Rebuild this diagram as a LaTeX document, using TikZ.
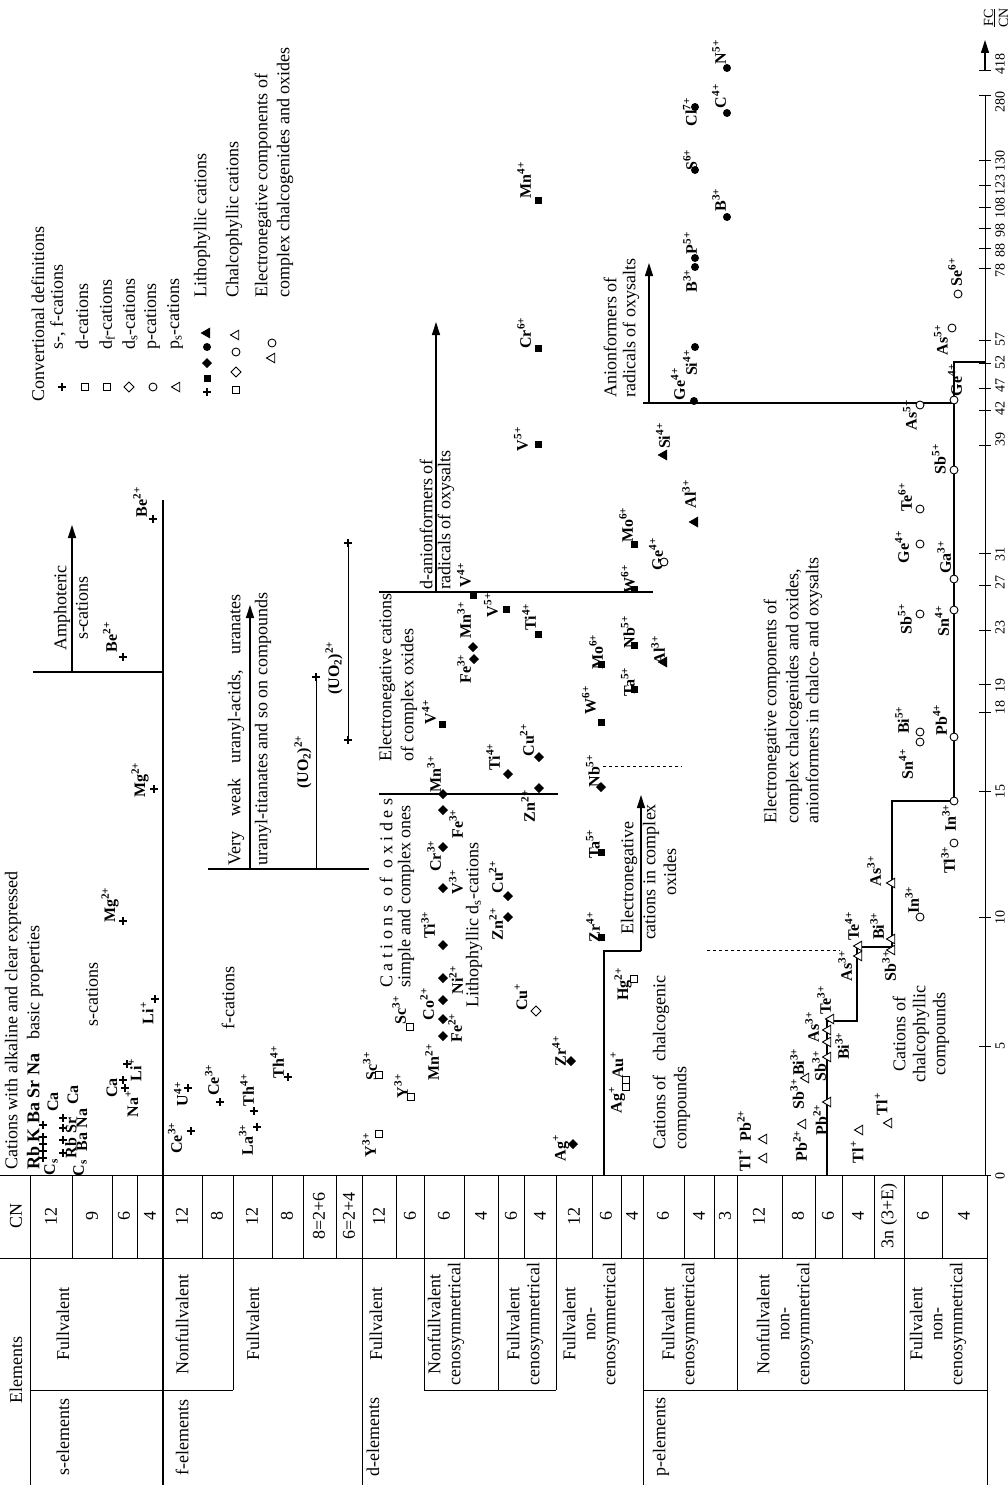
\documentclass[tikz,border=0pt]{standalone}
\usepackage{fontspec}
\setmainfont{Liberation Serif}
\usetikzlibrary{arrows.meta,shapes.geometric,shapes.misc}

\tikzset{
  txt/.style={rotate=90, inner sep=0pt, font=\fontsize{18}{20}\selectfont},
  ion/.style={rotate=90, inner sep=0pt, font=\fontsize{16}{16}\selectfont\bfseries},
  axl/.style={rotate=90, inner sep=0pt, font=\fontsize{14}{15}\selectfont},
  mk/.style={inner sep=0pt, outer sep=0pt, line width=0.9pt},
  crs/.style={mk, cross out, draw, line width=1.6pt, minimum size=5.5pt, rotate=45},
  sqo/.style={mk, rectangle, draw, fill=white, minimum size=7pt},
  sqd/.style={sqo, path picture={\fill (path picture bounding box.center) circle (1.2pt);}},
  sqf/.style={mk, rectangle, fill, minimum size=7pt},
  dmo/.style={mk, diamond, draw, fill=white, minimum size=10pt},
  dmf/.style={mk, diamond, fill, minimum size=10pt},
  cio/.style={mk, circle, draw, fill=white, minimum size=8pt},
  cid/.style={cio, path picture={\fill (path picture bounding box.center) circle (1.2pt);}},
  cif/.style={mk, circle, fill, minimum size=8pt},
  tro/.style={mk, regular polygon, regular polygon sides=3, draw, fill=white, minimum size=11pt, shape border rotate=90},
  trf/.style={tro, fill=black},
  tline/.style={line width=0.8pt},
  bnd/.style={line width=1.6pt},
  stair/.style={line width=2.2pt},
  arr/.style={line width=1.2pt, -{Triangle[length=13pt, width=8pt]}},
}

\begin{document}
\begin{tikzpicture}[x=1pt, y=-1pt]
\useasboundingbox (0,0) rectangle (1008,1485);

% ---- table
\draw[tline] (30,1175) -- (30,1485);
\draw[tline] (0,1175) -- (985,1175);
\draw[tline] (0,1258) -- (987,1258);
\draw[tline] (30,1390) -- (233,1390) (424,1390) -- (556,1390) (643,1390) -- (987,1390);
\draw[tline] (362,1175) -- (362,1485) (643,1175) -- (643,1485) (987,1175) -- (987,1485);
\draw[tline] (233,1175) -- (233,1390) (424,1175) -- (424,1390) (498,1175) -- (498,1390)
  (556,1175) -- (556,1390) (737,1175) -- (737,1390) (904,1175) -- (904,1390);
\draw[tline] (72,1175) -- (72,1258) (112,1175) -- (112,1258) (137,1175) -- (137,1258)
  (202,1175) -- (202,1258) (272,1175) -- (272,1258) (303,1175) -- (303,1258) (336,1175) -- (336,1258)
  (396,1175) -- (396,1258) (464,1175) -- (464,1258) (524,1175) -- (524,1258) (592,1175) -- (592,1258)
  (621,1175) -- (621,1258) (684,1175) -- (684,1258) (714,1175) -- (714,1258) (782,1175) -- (782,1258)
  (815,1175) -- (815,1258) (842,1175) -- (842,1258) (874,1175) -- (874,1258) (942,1175) -- (942,1258);

\node[txt] (hEl) at (16,1370) {Elements};
\node[txt] (hCN) at (16,1216) {CN};
\node[txt] (gS) at (63,1437) {s-elements};
\node[txt] (gF) at (182,1437) {f-elements};
\node[txt] (gD) at (373,1437) {d-elements};
\node[txt] (gP) at (661,1437) {p-elements};
\node[txt] (sS) at (63,1324) {Fullvalent};
\node[txt] (sF1) at (182,1324) {Nonfullvalent};
\node[txt] (sF2) at (253,1324) {Fullvalent};
\node[txt] (sD1) at (376,1324) {Fullvalent};
\node[txt, align=center] (sD2) at (446,1324) {Nonfullvalent\\cenosymmetrical};
\node[txt, align=center] (sD3) at (525,1324) {Fullvalent\\cenosymmetrical};
\node[txt, align=center] (sD4) at (591,1324) {Fullvalent\\non-\\cenosymmetrical};
\node[txt, align=center] (sP1) at (680,1324) {Fullvalent\\cenosymmetrical};
\node[txt, align=center] (sP2) at (785,1324) {Nonfullvalent\\non-\\cenosymmetrical};
\node[txt, align=center] (sP3) at (938,1324) {Fullvalent\\non-\\cenosymmetrical};

\node[txt] (c01) at (51,1216) {12};
\node[txt] (c02) at (92,1216) {9};
\node[txt] (c03) at (124,1216) {6};
\node[txt] (c04) at (150,1216) {4};
\node[txt] (c05) at (182,1216) {12};
\node[txt] (c06) at (217,1216) {8};
\node[txt] (c07) at (252,1216) {12};
\node[txt] (c08) at (287,1216) {8};
\node[txt] (c09) at (319,1216) {8=2+6};
\node[txt] (c10) at (349,1216) {6=2+4};
\node[txt] (c11) at (379,1216) {12};
\node[txt] (c12) at (410,1216) {6};
\node[txt] (c13) at (444,1216) {6};
\node[txt] (c14) at (481,1216) {4};
\node[txt] (c15) at (511,1216) {6};
\node[txt] (c16) at (540,1216) {4};
\node[txt] (c17) at (574,1216) {12};
\node[txt] (c18) at (606,1216) {6};
\node[txt] (c19) at (632,1216) {4};
\node[txt] (c20) at (663,1216) {6};
\node[txt] (c21) at (699,1216) {4};
\node[txt] (c22) at (725,1216) {3};
\node[txt] (c23) at (759,1216) {12};
\node[txt] (c24) at (798,1216) {8};
\node[txt] (c25) at (828,1216) {6};
\node[txt] (c26) at (858,1216) {4};
\node[txt] (c27) at (889,1216) {3n (3+E)};
\node[txt] (c28) at (923,1216) {6};
\node[txt] (c29) at (964,1216) {4};

% ---- legend
\node[txt, anchor=west] (lgT) at (38,402) {Convertional definitions};
\node[crs] (lg1m) at (62,387) {};
\node[txt, anchor=west] (lg1) at (58,350) {s-, f-cations};
\node[sqo] (lg2m) at (85,387) {};
\node[txt, anchor=west] (lg2) at (82,350) {d-cations};
\node[sqd] (lg3m) at (107,387) {};
\node[txt, anchor=west] (lg3) at (107,350) {d\textsubscript{f}-cations};
\node[dmo] (lg4m) at (129,387) {};
\node[txt, anchor=west] (lg4) at (130,350) {d\textsubscript{s}-cations};
\node[cio] (lg5m) at (153,387) {};
\node[txt, anchor=west] (lg5) at (152,350) {p-cations};
\node[tro] (lg6m) at (177,387) {};
\node[txt, anchor=west] (lg6) at (175,350) {p\textsubscript{s}-cations};
\node[crs] (lgL1) at (207,392) {};
\node[sqf] (lgL2) at (207,378) {};
\node[dmf] (lgL3) at (207,363) {};
\node[cif] (lgL4) at (207,347) {};
\node[trf] (lgL5) at (207,333) {};
\node[txt, anchor=west] (lgL) at (202,298) {Lithophyllic cations};
\node[sqo] (lgC1) at (236,390) {};
\node[dmo] (lgC2) at (236,372) {};
\node[cio] (lgC3) at (236,352) {};
\node[tro] (lgC4) at (236,335) {};
\node[txt, anchor=west] (lgC) at (234,298) {Chalcophyllic cations};
\node[tro] (lgE1) at (272,358) {};
\node[cid] (lgE2) at (272,343) {};
\node[txt, anchor=west] (lgE) at (263,298) {Electronegative components of};
\node[txt, anchor=west] (lgF) at (285,298) {complex chalcogenides and oxides};

% ---- s-elements
\draw[bnd] (163,500) -- (163,1485);
\draw[bnd] (33,672) -- (163,672);
\draw[arr] (72,672) -- (72,525);
\node[txt] (amph) at (62,608) {Amphoteric};
\node[txt] (amph2) at (82,608) {s-cations};
\node[txt, anchor=west] (alk1) at (13,1170) {Cations with alkaline and clear expressed};
\node[txt, anchor=west] (alk2) at (35,1170) {\textbf{Rb K Ba Sr Na}\hspace{0.8em}basic properties};
\node[ion] (Cs1) at (51,1167) {C\textsubscript{s}};
\node[crs] (mCs1) at (43,1158) {};
\node[crs] (mRb1) at (43,1151) {};
\node[crs] (mK1) at (43,1144) {};
\node[crs] (mBa1) at (43,1137) {};
\node[ion] (Ca1) at (53,1102) {Ca};
\node[crs] (mSr1) at (43,1125) {};
\node[ion] (Rb2) at (71,1138) {Rb Sr};
\node[crs] (mRb2) at (63,1153) {};
\node[crs] (mSr2) at (63,1140) {};
\node[crs] (mCa2) at (63,1128) {};
\node[crs] (mNa2) at (63,1118) {};
\node[ion] (Ca2) at (73,1095) {Ca};
\node[ion] (Cs2) at (80,1168) {C\textsubscript{s}};
\node[ion] (Ba2) at (82,1130) {Ba Na};
\node[ion] (Ca3) at (112,1088) {Ca};
\node[ion] (Na3) at (132,1104) {Na\textsuperscript{+}};
\node[crs] (mNa3) at (125,1088) {};
\node[crs] (mCa3) at (123,1080) {};
\node[ion] (Li1b) at (135,1070) {Li\textsuperscript{+}};
\node[crs] (mLi1b) at (127,1064) {};
\node[txt] (scat) at (92,994) {s-cations};
\node[ion] (Li1a) at (147,1013) {Li\textsuperscript{+}};
\node[crs] (mLi1a) at (155,999) {};
\node[ion] (Mg2a) at (110,905) {Mg\textsuperscript{2+}};
\node[crs] (mMg2a) at (123,921) {};
\node[ion] (Mg2b) at (140,780) {Mg\textsuperscript{2+}};
\node[crs] (mMg2b) at (154,789) {};
\node[ion] (Be2a) at (110,637) {Be\textsuperscript{2+}};
\node[crs] (mBe2a) at (123,657) {};
\node[ion] (Be2b) at (140,502) {Be\textsuperscript{2+}};
\node[crs] (mBe2b) at (153,519) {};

% ---- f-elements
\node[txt] (fcat) at (228,998) {f-cations};
\node[ion] (Ce3a) at (175,1138) {Ce\textsuperscript{3+}};
\node[crs] (mCe3a) at (191,1131) {};
\node[ion] (U4) at (181,1094) {U\textsuperscript{4+}};
\node[crs] (mU4) at (188,1088) {};
\node[ion] (Ce3b) at (212,1080) {Ce\textsuperscript{3+}};
\node[crs] (mCe3b) at (220,1102) {};
\node[ion] (La3) at (246,1140) {La\textsuperscript{3+}};
\node[crs] (mLa3) at (257,1127) {};
\node[ion] (Th4a) at (247,1090) {Th\textsuperscript{4+}};
\node[crs] (mTh4a) at (254,1111) {};
\node[ion] (Th4b) at (277,1062) {Th\textsuperscript{4+}};
\node[crs] (mTh4b) at (288,1077) {};
\draw[bnd] (208,869) -- (369,869);
\draw[arr] (250,869) -- (250,605);
\node[txt, anchor=west] (uran1) at (236,866) {Very\hspace{0.6em} weak\hspace{0.6em} uranyl-acids,\hspace{0.6em} uranates};
\node[txt, anchor=west] (uran2) at (263,866) {uranyl-titanates and so on compounds};
\draw[tline] (316,869) -- (316,677);
\node[crs] (mUO2a) at (316,677) {};
\node[ion] (UO2a) at (303,762) {(UO\textsubscript{2})\textsuperscript{2+}};
\draw[tline] (348,740) -- (348,543);
\node[crs] (mUO2b) at (348,740) {};
\node[crs] (mUO2c) at (348,543) {};
\node[ion] (UO2b) at (334,668) {(UO\textsubscript{2})\textsuperscript{2+}};

% ---- d-elements
\draw[bnd] (379,592) -- (653,592);
\draw[arr] (436,592) -- (436,322);
\draw[bnd] (379,794) -- (558,794);
\draw[bnd] (604,1175) -- (604,951) -- (641,951);
\draw[arr] (641,951) -- (641,795);
\draw[tline, dashed] (603,766) -- (682,766);
\draw[tline, dashed] (707,950) -- (840,950);
\node[txt, anchor=west] (dox1) at (386,988) {C a t i o n s\ \ o f\ \ o x i d e s};
\node[txt, anchor=west] (dox2) at (406,988) {simple and complex ones};
\node[txt, anchor=west] (den1) at (387,762) {Electronegative cations};
\node[txt, anchor=west] (den2) at (409,762) {of complex oxides};
\node[txt, anchor=west] (dan1) at (426,590) {d-anionformers of};
\node[txt, anchor=west] (dan2) at (446,590) {radicals of oxysalts};
\node[txt, anchor=west] (dlit) at (474,1008) {Lithophyllic d\textsubscript{s}-cations};
\node[txt] (dcx1) at (629,878) {Electronegative};
\node[txt] (dcx2) at (651,872) {cations in complex};
\node[txt] (dcx3) at (670,872) {oxides};
\node[txt, anchor=west] (dch1) at (661,1150) {Cations of\hspace{0.5em} chalcogenic};
\node[txt, anchor=west] (dch2) at (682,1150) {compounds};

\node[ion] (Y3a) at (369,1145) {Y\textsuperscript{3+}};
\node[sqd] (mY3a) at (379,1134) {};
\node[ion] (Sc3a) at (370,1066) {Sc\textsuperscript{3+}};
\node[sqd] (mSc3a) at (379,1075) {};
\node[ion] (Y3b) at (401,1086) {Y\textsuperscript{3+}};
\node[sqd] (mY3b) at (411,1097) {};
\node[ion] (Sc3b) at (399,1010) {Sc\textsuperscript{3+}};
\node[sqd] (mSc3b) at (410,1027) {};

\node[ion] (Mn2) at (432,1062) {Mn\textsuperscript{2+}};
\node[dmf] (mMn2) at (443,1036) {};
\node[ion] (Fe2) at (455,1028) {Fe\textsuperscript{2+}};
\node[dmf] (mFe2) at (443,1019) {};
\node[ion] (Co2) at (427,1004) {Co\textsuperscript{2+}};
\node[dmf] (mCo2) at (443,1000) {};
\node[ion] (Ni2) at (456,980) {Ni\textsuperscript{2+}};
\node[dmf] (mNi2) at (443,978) {};
\node[ion] (Ti3) at (428,925) {Ti\textsuperscript{3+}};
\node[dmf] (mTi3) at (443,945) {};
\node[ion] (V3) at (456,882) {V\textsuperscript{3+}};
\node[dmf] (mV3) at (443,888) {};
\node[ion] (Cr3) at (434,856) {Cr\textsuperscript{3+}};
\node[dmf] (mCr3) at (443,847) {};
\node[ion] (Fe3a) at (456,824) {Fe\textsuperscript{3+}};
\node[dmf] (mFe3a) at (443,810) {};
\node[ion] (Mn3a) at (434,774) {Mn\textsuperscript{3+}};
\node[dmf] (mMn3a) at (443,794) {};

\node[ion] (Zn2a) at (496,924) {Zn\textsuperscript{2+}};
\node[dmf] (mZn2a) at (508,917) {};
\node[ion] (Cu2a) at (496,877) {Cu\textsuperscript{2+}};
\node[dmf] (mCu2a) at (508,896) {};
\node[ion] (Ti4a) at (493,757) {Ti\textsuperscript{4+}};
\node[dmf] (mTi4a) at (508,774) {};
\node[ion] (Cu2b) at (527,740) {Cu\textsuperscript{2+}};
\node[dmf] (mCu2b) at (539,757) {};
\node[ion] (Zn2b) at (528,806) {Zn\textsuperscript{2+}};
\node[dmf] (mZn2b) at (539,788) {};
\node[ion] (Cu1) at (521,997) {Cu\textsuperscript{+}};
\node[dmo] (mCu1) at (536,1011) {};
\node[ion] (Zr4a) at (559,1051) {Zr\textsuperscript{4+}};
\node[dmf] (mZr4a) at (571,1061) {};
\node[ion] (Ag1a) at (561,1148) {Ag\textsuperscript{+}};
\node[dmf] (mAg1a) at (573,1144) {};
\node[ion] (Zr4b) at (593,927) {Zr\textsuperscript{4+}};
\node[sqf] (mZr4b) at (601,937) {};
\node[ion] (Ta5a) at (593,844) {Ta\textsuperscript{5+}};
\node[sqf] (mTa5a) at (601,852) {};
\node[ion] (Nb5a) at (593,771) {Nb\textsuperscript{5+}};
\node[dmf] (mNb5a) at (601,787) {};
\node[ion] (Ag1b) at (617,1100) {Ag\textsuperscript{+}};
\node[sqo] (mAg1b) at (626,1087) {};
\node[sqo] (mAu1) at (626,1080) {};
\node[ion] (Au1) at (617,1065) {Au\textsuperscript{+}};
\node[ion] (Hg2) at (623,984) {Hg\textsuperscript{2+}};
\node[sqo] (mHg2) at (634,979) {};

\node[ion] (V4a) at (429,712) {V\textsuperscript{4+}};
\node[sqf] (mV4a) at (442,724) {};
\node[ion] (V4b) at (464,575) {V\textsuperscript{4+}};
\node[sqf] (mV4b) at (473,595) {};
\node[ion] (Mn3b) at (464,620) {Mn\textsuperscript{3+}};
\node[dmf] (mMn3b) at (473,647) {};
\node[ion] (Fe3b) at (464,669) {Fe\textsuperscript{3+}};
\node[dmf] (mFe3b) at (474,659) {};
\node[ion] (V5a) at (491,605) {V\textsuperscript{5+}};
\node[sqf] (mV5a) at (506,609) {};
\node[ion] (Ti4b) at (529,617) {Ti\textsuperscript{4+}};
\node[sqf] (mTi4b) at (538,634) {};
\node[ion] (V5b) at (521,439) {V\textsuperscript{5+}};
\node[sqf] (mV5b) at (538,444) {};
\node[ion] (Cr6) at (524,333) {Cr\textsuperscript{6+}};
\node[sqf] (mCr6) at (538,348) {};
\node[ion] (Mn4) at (524,180) {Mn\textsuperscript{4+}};
\node[sqf] (mMn4) at (538,200) {};
\node[ion] (W6a) at (589,700) {W\textsuperscript{6+}};
\node[sqf] (mW6a) at (601,722) {};
\node[ion] (Mo6a) at (596,652) {Mo\textsuperscript{6+}};
\node[sqf] (mMo6a) at (601,664) {};
\node[ion] (Ta5b) at (628,682) {Ta\textsuperscript{5+}};
\node[sqf] (mTa5b) at (634,689) {};
\node[ion] (Nb5b) at (628,632) {Nb\textsuperscript{5+}};
\node[sqf] (mNb5b) at (634,645) {};
\node[ion] (W6b) at (628,579) {W\textsuperscript{6+}};
\node[sqf] (mW6b) at (634,589) {};
\node[ion] (Mo6b) at (626,525) {Mo\textsuperscript{6+}};
\node[sqf] (mMo6b) at (634,544) {};
\node[ion] (Ge4a) at (656,554) {Ge\textsuperscript{4+}};
\node[cio] (mGe4a) at (664,562) {};
\node[ion] (Al3a) at (658,650) {Al\textsuperscript{3+}};
\node[trf] (mAl3a) at (664,662) {};
\node[ion] (Si4a) at (663,436) {Si\textsuperscript{4+}};
\node[trf] (mSi4a) at (664,455) {};
\node[ion] (Al3b) at (689,494) {Al\textsuperscript{3+}};
\node[trf] (mAl3b) at (695,522) {};

% ---- p-elements
\draw[bnd] (643,403) -- (954,403);
\draw[arr] (649,403) -- (649,263);
\node[txt, anchor=west] (pan1) at (610,398) {Anionformers of};
\node[txt, anchor=west] (pan2) at (631,398) {radicals of oxysalts};
\draw[stair] (827,1175) -- (827,1021) -- (857,1021) -- (857,947) -- (892,947) -- (892,801)
  -- (954,801) -- (954,362) -- (985,362);
\node[txt, anchor=west] (pen1) at (772,824) {Electronegative components of};
\node[txt, anchor=west] (pen2) at (794,824) {complex chalcogenides and oxides,};
\node[txt, anchor=west] (pen3) at (814,824) {anionformers in chalco- and oxysalts};
\node[txt, align=center] (pch) at (921,1034) {Cations of\\chalcophyllic\\compounds};

\node[ion] (Ge4b) at (678,384) {Ge\textsuperscript{4+}};
\node[cif] (mGe4b) at (694,401) {};
\node[ion] (Si4b) at (690,363) {Si\textsuperscript{4+}};
\node[cif] (mSi4b) at (695,347) {};
\node[ion] (B3a) at (690,281) {B\textsuperscript{3+}};
\node[cif] (mB3a) at (695,267) {};
\node[ion] (P5) at (690,243) {P\textsuperscript{5+}};
\node[cif] (mP5) at (695,258) {};
\node[ion] (S6) at (690,160) {S\textsuperscript{6+}};
\node[cif] (mS6) at (695,170) {};
\node[ion] (Cl7) at (690,112) {Cl\textsuperscript{7+}};
\node[cif] (mCl7) at (695,107) {};
\node[ion] (B3b) at (719,200) {B\textsuperscript{3+}};
\node[cif] (mB3b) at (727,217) {};
\node[ion] (C4) at (719,96) {C\textsuperscript{4+}};
\node[cif] (mC4) at (727,113) {};
\node[ion] (N5) at (719,52) {N\textsuperscript{5+}};
\node[cif] (mN5) at (727,68) {};

\node[ion] (As5a) at (941,340) {As\textsuperscript{5+}};
\node[cio] (mAs5a) at (952,328) {};
\node[ion] (Se6) at (955,272) {Se\textsuperscript{6+}};
\node[cio] (mSe6) at (958,294) {};
\node[ion] (Ge4c) at (955,380) {Ge\textsuperscript{4+}};
\node[cio] (mGe4c) at (954,400) {};
\node[ion] (As5b) at (910,415) {As\textsuperscript{5+}};
\node[cid] (mAs5b) at (920,405) {};
\node[ion] (Sb5a) at (939,459) {Sb\textsuperscript{5+}};
\node[cio] (mSb5a) at (954,470) {};
\node[ion] (Te6) at (905,497) {Te\textsuperscript{6+}};
\node[cid] (mTe6) at (920,509) {};
\node[ion] (Ge4d) at (902,547) {Ge\textsuperscript{4+}};
\node[cid] (mGe4d) at (920,544) {};
\node[ion] (Ga3) at (944,557) {Ga\textsuperscript{3+}};
\node[cio] (mGa3) at (954,579) {};
\node[ion] (Sb5b) at (905,619) {Sb\textsuperscript{5+}};
\node[cid] (mSb5b) at (920,614) {};
\node[ion] (Sn4a) at (942,621) {Sn\textsuperscript{4+}};
\node[cio] (mSn4a) at (954,610) {};
\node[ion] (Bi5) at (902,720) {Bi\textsuperscript{5+}};
\node[cio] (mBi5) at (920,732) {};
\node[ion] (Sn4b) at (906,764) {Sn\textsuperscript{4+}};
\node[cio] (mSn4b) at (920,742) {};
\node[ion] (Pb4) at (940,720) {Pb\textsuperscript{4+}};
\node[cio] (mPb4) at (954,737) {};
\node[ion] (In3a) at (949,818) {In\textsuperscript{3+}};
\node[cio] (mIn3a) at (954,801) {};
\node[ion] (Tl3) at (948,860) {Tl\textsuperscript{3+}};
\node[cio] (mTl3) at (954,843) {};
\node[ion] (In3b) at (912,900) {In\textsuperscript{3+}};
\node[cio] (mIn3b) at (920,917) {};

\node[ion] (As3c) at (874,871) {As\textsuperscript{3+}};
\node[tro] (mAs3c) at (892,883) {};
\node[ion] (Bi3b) at (877,926) {Bi\textsuperscript{3+}};
\node[tro] (mBi3b) at (892,939) {};
\node[ion] (Sb3b) at (889,966) {Sb\textsuperscript{3+}};
\node[tro] (mSb3b) at (892,950) {};
\node[ion] (Te4) at (852,926) {Te\textsuperscript{4+}};
\node[tro] (mTe4) at (859,946) {};
\node[ion] (As3b) at (845,966) {As\textsuperscript{3+}};
\node[tro] (mAs3b) at (859,956) {};
\node[ion] (Te3) at (824,1000) {Te\textsuperscript{3+}};
\node[tro] (mTe3) at (831,1019) {};
\node[ion] (As3a) at (812,1027) {As\textsuperscript{3+}};
\node[tro] (mAs3a) at (828,1030) {};
\node[ion] (Bi3a) at (842,1046) {Bi\textsuperscript{3+}};
\node[tro] (mBi3a) at (828,1042) {};
\node[ion] (Sb3a) at (819,1066) {Sb\textsuperscript{3+}};
\node[tro] (mSb3a) at (828,1057) {};
\node[ion] (Pb2a) at (820,1120) {Pb\textsuperscript{2+}};
\node[tro] (mPb2a) at (828,1102) {};
\node[ion] (Sb3c) at (797,1094) {Sb\textsuperscript{3+}};
\node[tro] (mSb3c) at (806,1078) {};
\node[ion] (Bi3c) at (797,1062) {Bi\textsuperscript{3+}};
\node[ion] (Pb2b) at (800,1146) {Pb\textsuperscript{2+}};
\node[tro] (mPb2b) at (803,1124) {};
\node[ion] (Tl1a) at (744,1160) {Tl\textsuperscript{+}};
\node[tro] (mTl1a) at (764,1158) {};
\node[ion] (Pb2c) at (744,1126) {Pb\textsuperscript{2+}};
\node[tro] (mPb2c) at (764,1139) {};
\node[ion] (Tl1b) at (857,1152) {Tl\textsuperscript{+}};
\node[tro] (mTl1b) at (860,1130) {};
\node[ion] (Tl1c) at (881,1104) {Tl\textsuperscript{+}};
\node[tro] (mTl1c) at (889,1123) {};

% ---- axis
\draw[tline] (985,1175) -- (985,95);
\draw[arr] (985,70) -- (985,40);
\draw[tline] (979,1175) -- (991,1175) (979,1046) -- (991,1046) (979,917) -- (991,917)
  (979,791) -- (991,791) (979,712) -- (991,712) (979,684) -- (991,684) (979,630) -- (991,630)
  (979,585) -- (991,585) (979,553) -- (991,553) (979,445) -- (991,445) (979,410) -- (991,410)
  (979,388) -- (991,388) (979,363) -- (991,363) (979,340) -- (991,340) (979,268) -- (991,268)
  (979,248) -- (991,248) (979,228) -- (991,228) (979,207) -- (991,207) (979,185) -- (991,185)
  (979,160) -- (991,160) (979,95) -- (991,95) (979,70) -- (991,70);
\node[axl] (a0) at (1000,1176) {0};
\node[axl] (a5) at (1000,1046) {5};
\node[axl] (a10) at (1000,917) {10};
\node[axl] (a15) at (1000,791) {15};
\node[axl] (a18) at (1000,707) {18};
\node[axl] (a19) at (1000,685) {19};
\node[axl] (a23) at (1000,627) {23};
\node[axl] (a27) at (1000,582) {27};
\node[axl] (a31) at (1000,554) {31};
\node[axl] (a39) at (1000,439) {39};
\node[axl] (a42) at (1000,408) {42};
\node[axl] (a47) at (1000,385) {47};
\node[axl] (a52) at (1000,362) {52};
\node[axl] (a57) at (1000,339) {57};
\node[axl] (a78) at (1000,270) {78};
\node[axl] (a88) at (1000,250) {88};
\node[axl] (a98) at (1000,230) {98};
\node[axl] (a108) at (1000,208) {108};
\node[axl] (a123) at (1000,185) {123};
\node[axl] (a130) at (1000,161) {130};
\node[axl] (a280) at (1000,102) {280};
\node[axl] (a418) at (1000,64) {418};
\node[axl, align=center] (afc) at (996,18) {\underline{FC}\\CN};
\end{tikzpicture}
\end{document}
